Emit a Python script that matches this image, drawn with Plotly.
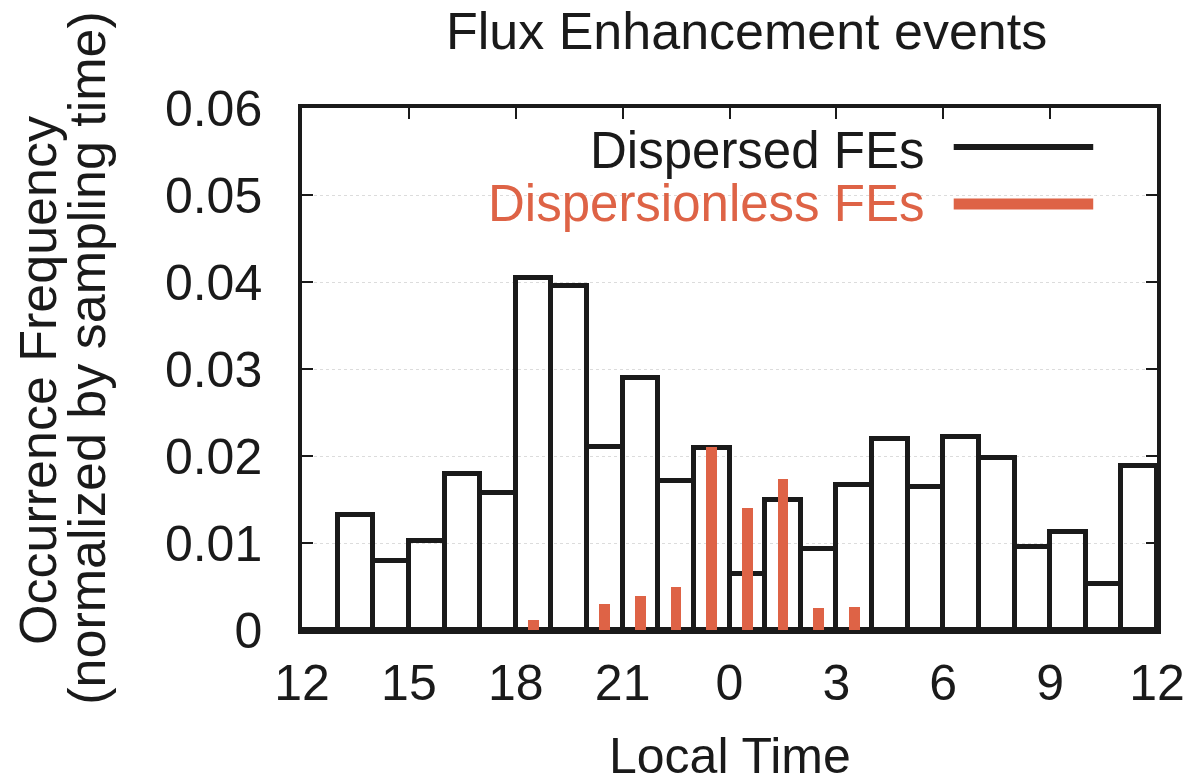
import plotly.graph_objects as go

# Local-time bins (start hour of each 1-hour bin, from 12 LT through midnight to 12 LT)
lt_bin_start = [12, 13, 14, 15, 16, 17, 18, 19, 20, 21, 22, 23,
                0, 1, 2, 3, 4, 5, 6, 7, 8, 9, 10, 11]

dispersed_fe = [0.0, 0.0132, 0.0079, 0.0102, 0.0179, 0.0158, 0.0405, 0.0395,
                0.0210, 0.0290, 0.0171, 0.0209, 0.0064, 0.0149, 0.0093, 0.0167,
                0.0220, 0.0164, 0.0222, 0.0198, 0.0095, 0.0113, 0.0053, 0.0189]

dispersionless_fe = [0.0, 0.0, 0.0, 0.0, 0.0, 0.0, 0.0012, 0.0,
                     0.0030, 0.0039, 0.0049, 0.0210, 0.0140, 0.0173, 0.0025, 0.0027,
                     0.0, 0.0, 0.0, 0.0, 0.0, 0.0, 0.0, 0.0]

x_tick_vals = [12, 15, 18, 21, 24, 27, 30, 33, 36]
x_tick_text = ["12", "15", "18", "21", "0", "3", "6", "9", "12"]
y_tick_vals = [0, 0.01, 0.02, 0.03, 0.04, 0.05, 0.06]
y_tick_text = ["0", "0.01", "0.02", "0.03", "0.04", "0.05", "0.06"]

# continuous hour axis (12 .. 36), bar centred in its bin
x_centre = [((h - 12) % 24) + 12 + 0.5 for h in lt_bin_start]

BLACK = "#1a1a1a"
RED = "#DE6346"
FONT = "Liberation Sans, Arial, Helvetica, sans-serif"

W, H = 1197, 783
ML, MR, MT, MB = 302, 37, 108, 153
PW, PH = W - ML - MR, H - MT - MB


def px_x(px):
    return (px - ML) / PW


def px_y(py):
    return (H - MB - py) / PH


fig = go.Figure()
fig.add_trace(go.Bar(
    x=x_centre, y=dispersed_fe, width=1.0,
    marker=dict(color="rgba(255,255,255,0)", line=dict(color=BLACK, width=5)),
    name="Dispersed FEs", showlegend=False,
))
fig.add_trace(go.Bar(
    x=x_centre, y=dispersionless_fe, width=0.3,
    marker=dict(color=RED, line=dict(width=0)),
    name="Dispersionless FEs", showlegend=False,
))

axis_common = dict(
    showline=True, linecolor=BLACK, linewidth=3.5, mirror="ticks",
    ticks="inside", ticklen=11, tickwidth=2, tickcolor=BLACK,
    tickfont=dict(family=FONT, size=50, color=BLACK),
    zeroline=False,
)

fig.update_layout(
    width=W, height=H,
    margin=dict(l=ML, r=MR, t=MT, b=MB, pad=0),
    paper_bgcolor="white", plot_bgcolor="white",
    barmode="overlay", bargap=0,
    showlegend=False,
    xaxis=dict(range=[12, 36], tickvals=x_tick_vals, ticktext=x_tick_text,
               showgrid=False, ticklabelstandoff=6, **axis_common),
    yaxis=dict(range=[0, 0.06], tickvals=y_tick_vals, ticktext=y_tick_text,
               showgrid=True, gridcolor="#dcdcdc", griddash="dot", gridwidth=1,
               ticklabelstandoff=26, **axis_common),
)

ann = []
# Title
ann.append(dict(text="Flux Enhancement events", x=px_x(748), y=px_y(31),
                xref="paper", yref="paper", xanchor="center", yanchor="middle",
                showarrow=False, font=dict(family=FONT, size=52, color=BLACK)))
# x-axis title
ann.append(dict(text="Local Time", x=px_x(731), y=px_y(756),
                xref="paper", yref="paper", xanchor="center", yanchor="middle",
                showarrow=False, font=dict(family=FONT, size=50, color=BLACK)))
# y-axis title (two lines)
ann.append(dict(text="Occurrence Frequency", x=px_x(37), y=px_y(380),
                xref="paper", yref="paper", xanchor="center", yanchor="middle",
                textangle=-90, showarrow=False,
                font=dict(family=FONT, size=52, color=BLACK)))
ann.append(dict(text="(normalized by sampling time)", x=px_x(86), y=px_y(358),
                xref="paper", yref="paper", xanchor="center", yanchor="middle",
                textangle=-90, showarrow=False,
                font=dict(family=FONT, size=52, color=BLACK)))
# legend texts
ann.append(dict(text="Dispersed FEs", x=px_x(928), y=px_y(150),
                xref="paper", yref="paper", xanchor="right", yanchor="middle",
                showarrow=False, font=dict(family=FONT, size=51, color=BLACK)))
ann.append(dict(text="Dispersionless FEs", x=px_x(928), y=px_y(203),
                xref="paper", yref="paper", xanchor="right", yanchor="middle",
                showarrow=False, font=dict(family=FONT, size=51, color=RED)))
fig.update_layout(annotations=ann)

fig.add_shape(type="line", xref="paper", yref="paper",
              x0=px_x(956), x1=px_x(1096), y0=px_y(147), y1=px_y(147),
              line=dict(color=BLACK, width=6))
fig.add_shape(type="line", xref="paper", yref="paper",
              x0=px_x(956), x1=px_x(1096), y0=px_y(204), y1=px_y(204),
              line=dict(color=RED, width=11))

fig.write_html("out.html")
